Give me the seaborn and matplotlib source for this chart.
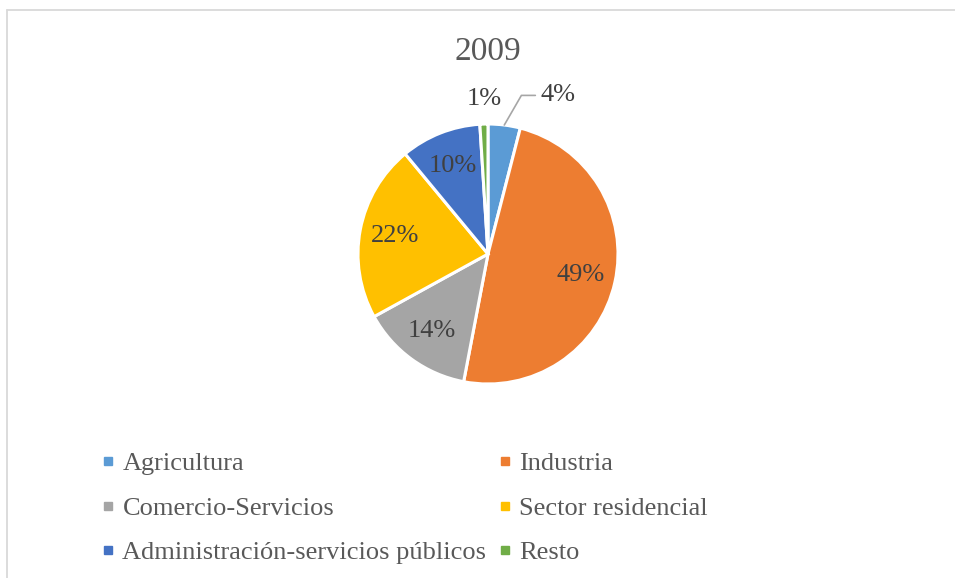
import numpy as np
import matplotlib
matplotlib.use("Agg")
import matplotlib.pyplot as plt
from matplotlib.lines import Line2D
import seaborn as sns

# Energy consumption share by sector, 2009
categories = ["Agricultura", "Industria", "Comercio-Servicios",
              "Sector residencial", "Administración-servicios públicos", "Resto"]
shares = [4, 49, 14, 22, 10, 1]
pct_labels = [f"{v}%" for v in shares]
title = "2009"

colors = ["#5B9BD5", "#ED7D31", "#A5A5A5", "#FFC000", "#4472C4", "#70AD47"]

sns.set_theme(style="white")
plt.rcParams["font.family"] = ["Liberation Serif", "DejaVu Serif"]

W, H = 955, 578
fig = plt.figure(figsize=(W / 100, H / 100), dpi=100)
fig.patch.set_facecolor("white")

# chart frame (top and left edges)
frame_col = "#d9d9d9"
fig.add_artist(Line2D([7 / W, 1.0], [1 - 9.5 / H, 1 - 9.5 / H], color=frame_col, lw=1.3,
                      transform=fig.transFigure))
fig.add_artist(Line2D([7 / W, 7 / W], [0, 1 - 9.5 / H], color=frame_col, lw=1.3,
                      transform=fig.transFigure))

# pie axes: radius 1 == 130 px, centred on (488, 254)
R, cx, cy = 130, 488, 254
span = 1.5
side = 2 * span * R
ax = fig.add_axes([(cx - side / 2) / W, (H - cy - side / 2) / H, side / W, side / H])
sns.set_palette(colors)
wedges, _ = ax.pie(shares, colors=colors, startangle=90, counterclock=False,
                   radius=1.0, wedgeprops=dict(edgecolor="white", linewidth=2.2))
ax.set_xlim(-span, span)
ax.set_ylim(-span, span)
ax.set_aspect("equal")
ax.axis("off")

label_col = "#404040"
label_fs = 19
for w, lab, v in zip(wedges, pct_labels, shares):
    mid = np.deg2rad((w.theta1 + w.theta2) / 2)
    if v >= 5:
        d = 0.73
        ax.text(d * np.cos(mid), d * np.sin(mid), lab, ha="center", va="center",
                fontsize=label_fs, color=label_col)

# small slices labelled outside the pie
w_agr = wedges[0]
mid = np.deg2rad((w_agr.theta1 + w_agr.theta2) / 2)
ax.annotate(pct_labels[0], xy=(1.0 * np.cos(mid), 1.0 * np.sin(mid)),
            xytext=(0.40, 1.22), ha="left", va="center", fontsize=label_fs, color=label_col,
            arrowprops=dict(arrowstyle="-", color="#a6a6a6", lw=1.2,
                            connectionstyle="angle,angleA=0,angleB=60,rad=0",
                            shrinkA=1, shrinkB=0))
ax.text(-0.03, 1.19, pct_labels[5], ha="center", va="center", fontsize=label_fs,
        color=label_col)

fig.text(cx / W, 1 - 60 / H, title, ha="center", va="baseline", fontsize=24,
         color="#595959")

# legend, filled row by row
order = [0, 2, 4, 1, 3, 5]
handles = [Line2D([], [], marker="s", linestyle="", markersize=6, color=colors[i])
           for i in order]
labels = [categories[i] for i in order]
fig.legend(handles, labels, ncol=2, loc="upper left",
           bbox_to_anchor=(100 / W, 1 - 452 / H), frameon=False, fontsize=19,
           labelcolor="#595959", handlelength=0.6, handletextpad=0.25,
           columnspacing=0.4, labelspacing=0.79, borderpad=0, borderaxespad=0)

fig.savefig("out.png", dpi=100, facecolor="white")
